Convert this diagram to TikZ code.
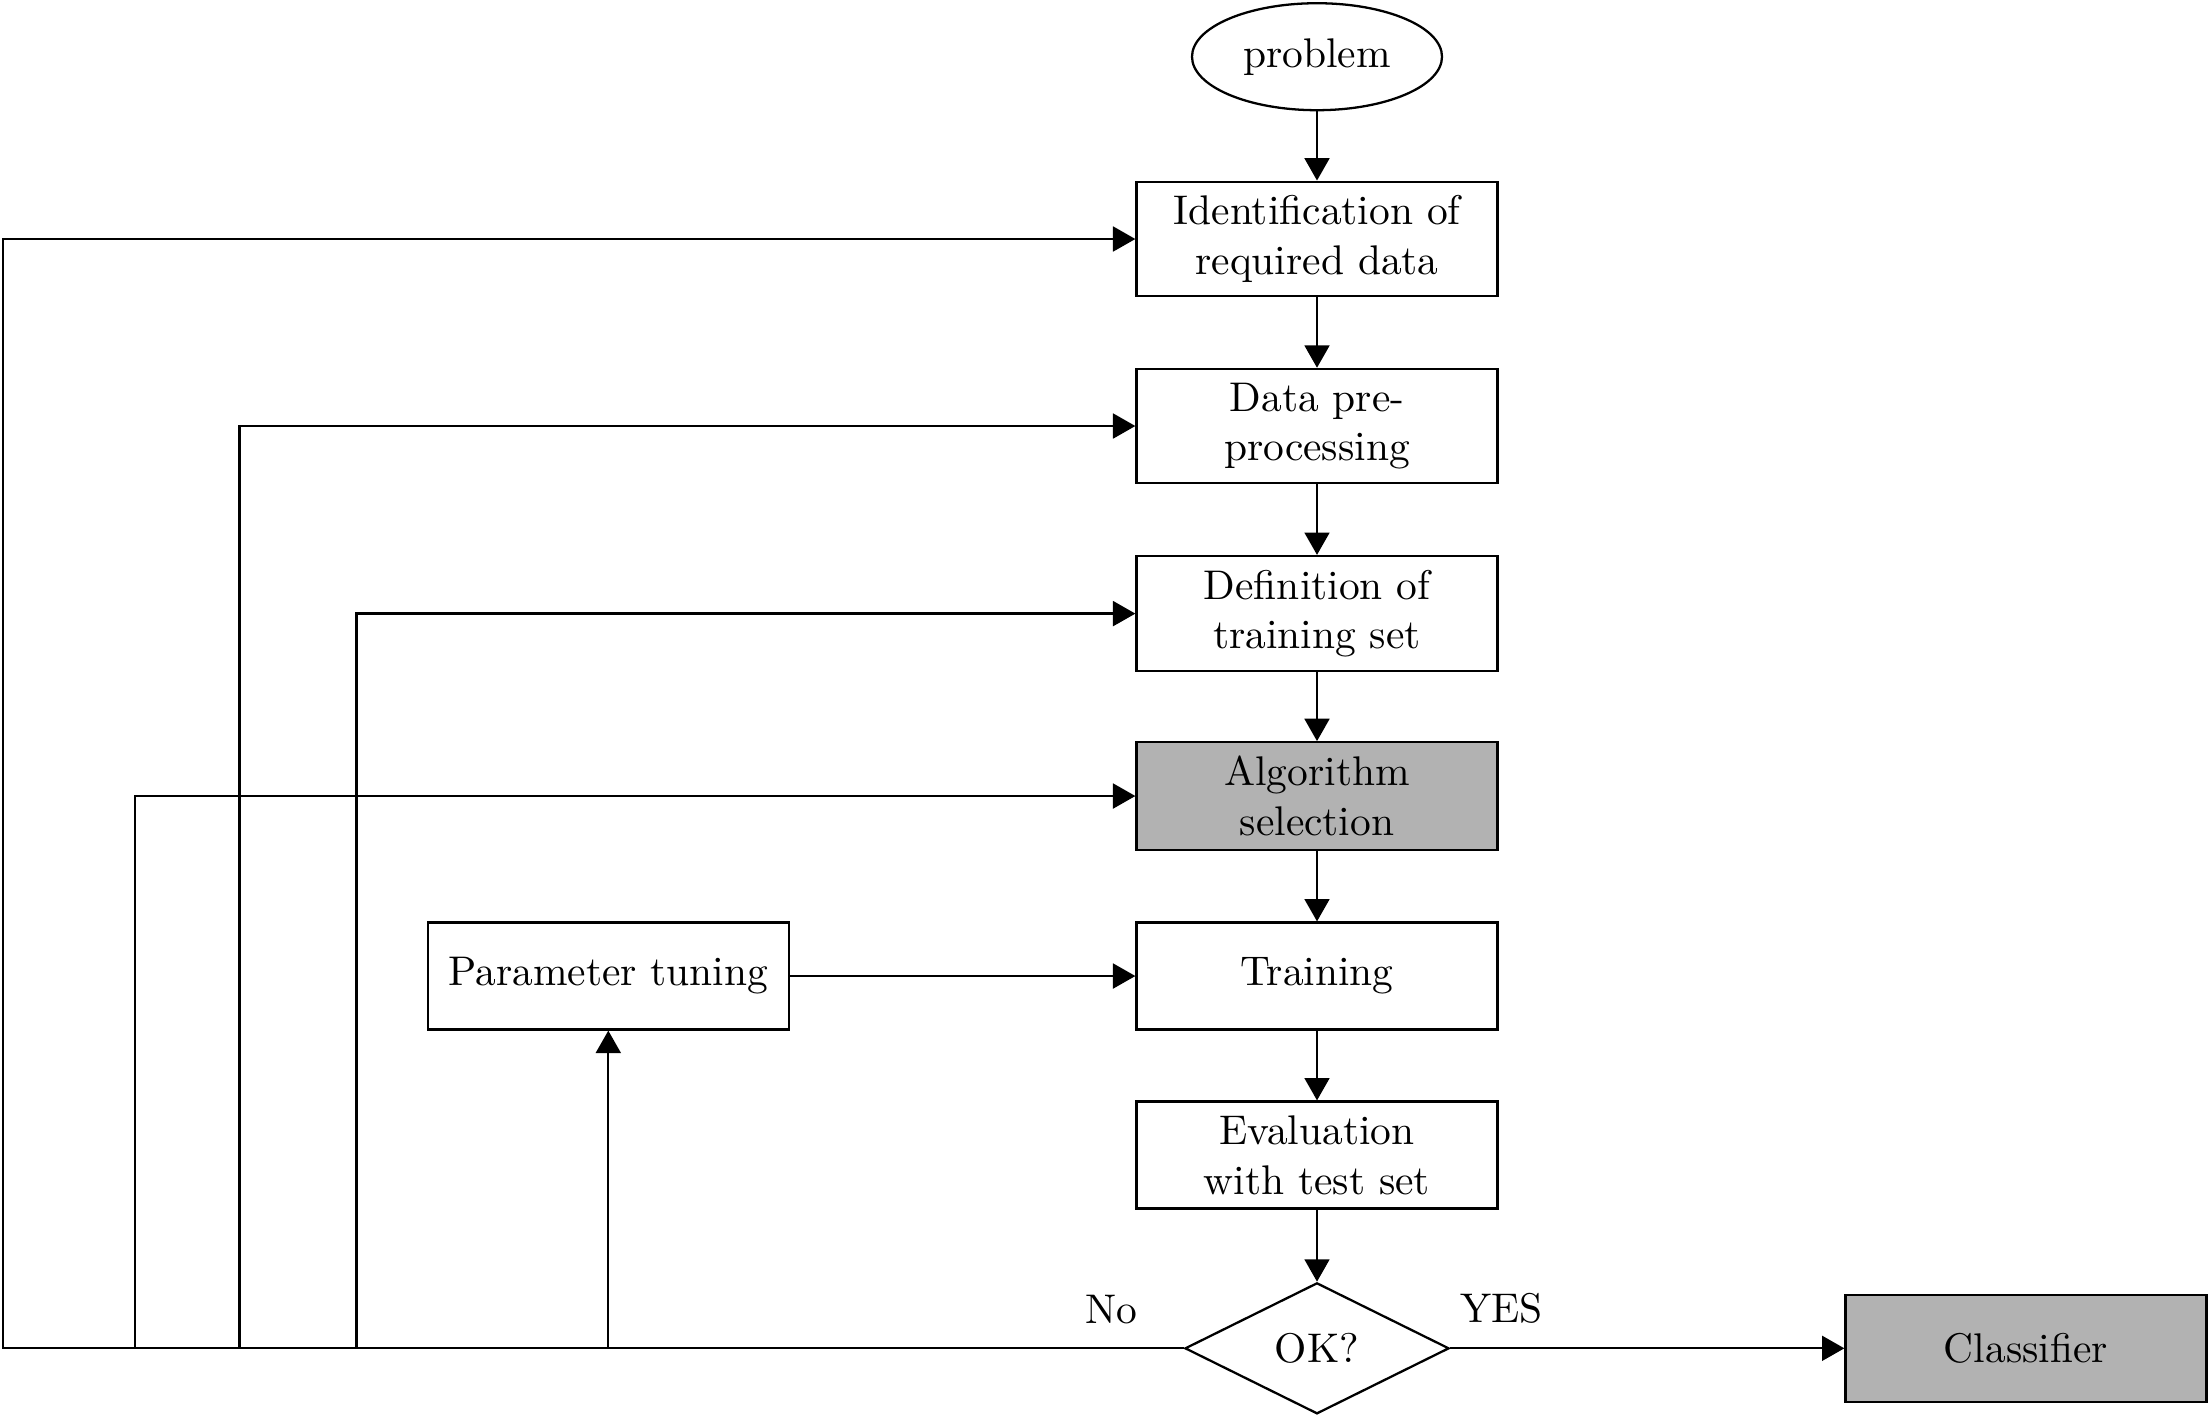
\documentclass[tikz,border=0pt]{standalone}
\usetikzlibrary{arrows.meta,shapes.geometric}
\begin{document}
\begin{tikzpicture}[x=0.2412pt,y=-0.2412pt,
  line width=0.55pt,
  arr/.style={-{Triangle[width=6pt,length=5.4pt]}},
  stepbox/.style={draw, rectangle, text width=80.4pt, align=center,
    minimum height=25.8pt, inner sep=3.333pt},
  shaded/.style={fill=black!30},
  lbl/.style={inner sep=0pt},
]
\useasboundingbox (0,0) rectangle (2209,1417);

% main chain
\node[draw, ellipse, minimum width=60.3pt, minimum height=25.8pt, inner sep=0pt]
  (prob) at (1317,56.7) {problem};
\node[stepbox] (b1) at (1317,239) {Identification of\\required data};
\node[stepbox] (b2) at (1317,426) {Data pre-\\processing};
\node[stepbox] (b3) at (1317,613.6) {Definition of\\training set};
\node[stepbox, shaded] (b4) at (1317,796) {Algorithm\\selection};
\node[stepbox] (tr) at (1317,976) {Training};
\node[stepbox] (ev) at (1317,1155) {Evaluation\\with test set};
\node[draw, diamond, aspect=2, minimum width=63.7pt, minimum height=31.6pt, inner sep=0pt]
  (ok) at (1317,1348.3) {OK?};
\node[stepbox, shaded] (cl) at (2026,1348.3) {Classifier};
\node[stepbox] (pt) at (608.3,976) {Parameter tuning};

% branch labels
\node[lbl] (no) at (1111.7,1310) {No};
\node[lbl] (yes) at (1501.7,1308) {YES};

% return columns
\coordinate (c1) at (3,0);
\coordinate (c2) at (239.5,0);
\coordinate (c3) at (356.5,0);
\coordinate (c4) at (135,0);

% forward arrows
\draw[arr] (prob) -- (b1);
\draw[arr] (b1) -- (b2);
\draw[arr] (b2) -- (b3);
\draw[arr] (b3) -- (b4);
\draw[arr] (b4) -- (tr);
\draw[arr] (tr) -- (ev);
\draw[arr] (ev) -- (ok);
\draw[arr] (ok) -- (cl);
\draw[arr] (pt) -- (tr);

% feedback loops
\draw[arr] (ok.west) -- (ok.west -| c1) |- (b1.west);
\draw[arr] (ok.west) -- (ok.west -| c2) |- (b2.west);
\draw[arr] (ok.west) -- (ok.west -| c3) |- (b3.west);
\draw[arr] (ok.west) -- (ok.west -| c4) |- (b4.west);
\draw[arr] (ok.west -| pt.south) -- (pt.south);
\end{tikzpicture}
\end{document}
